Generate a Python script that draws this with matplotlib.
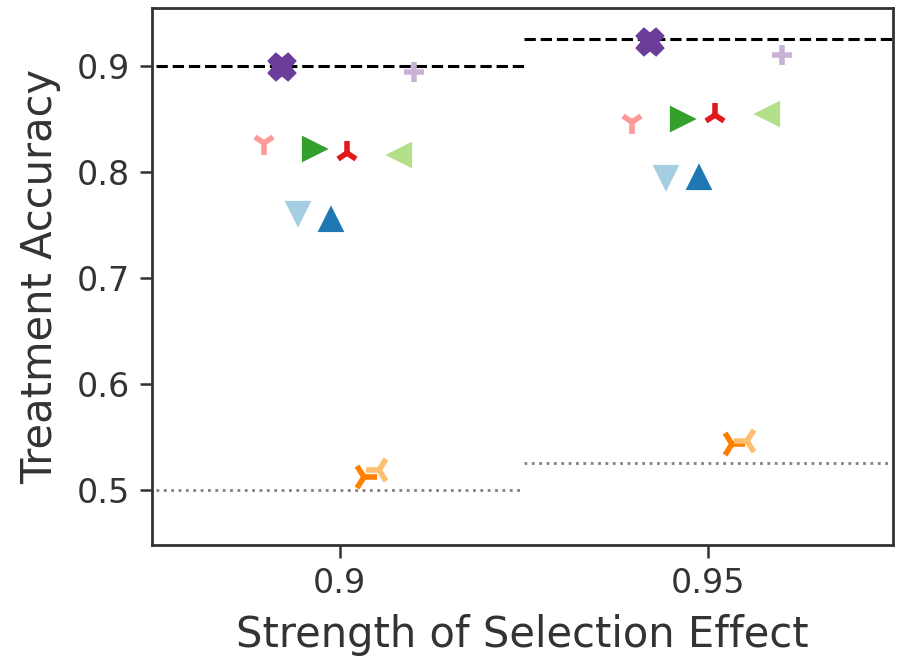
"""Treatment accuracy vs selection strength"""
import numpy as np
import matplotlib
matplotlib.use("Agg")
from matplotlib import pyplot as plt
import seaborn as sns

sns.set_style("ticks")
plt.rcParams["font.family"] = ["DejaVu Sans"]

strengths = [0.9, 0.95]
methods = ["m1", "x", "v", ">", "^", "m2", "m4", "m3", "<", "+"]
accuracy = {
    "m1": [0.827, 0.847],
    "x": [0.899, 0.923],
    "v": [0.761, 0.795],
    ">": [0.822, 0.850],
    "^": [0.755, 0.794],
    "m2": [0.818, 0.854],
    "m4": [0.512, 0.543],
    "m3": [0.519, 0.546],
    "<": [0.816, 0.855],
    "+": [0.894, 0.910],
}
upper_bound = [0.9, 0.925]
lower_bound = [0.5, 0.525]

pal = sns.color_palette("Paired", 10)
styles = {
    "m1": dict(marker="1", color=pal[4], ms=17, mew=4),
    "x": dict(marker="X", color=pal[9], ms=16, mew=4),
    "v": dict(marker="v", color=pal[0], ms=14, mew=3),
    ">": dict(marker=">", color=pal[3], ms=14, mew=3),
    "^": dict(marker="^", color=pal[1], ms=14, mew=3),
    "m2": dict(marker="2", color=pal[5], ms=17, mew=4),
    "m4": dict(marker="4", color=pal[7], ms=19, mew=4),
    "m3": dict(marker="3", color=pal[6], ms=19, mew=4),
    "<": dict(marker="<", color=pal[2], ms=14, mew=3),
    "+": dict(marker="+", color=pal[8], ms=15, mew=4),
}
offsets = np.array([-76, -58, -42, -26, -9, 7, 24, 39, 60, 74]) / 368 * 0.05

fig, ax = plt.subplots(figsize=(9.04, 6.59), dpi=100)
half = 0.025
for s, ub, lb in zip(strengths, upper_bound, lower_bound):
    ax.hlines(ub, s - half, s + half, colors="k", linestyles="--", lw=2.2, zorder=1)
    ax.hlines(lb, s - half, s + half, colors="gray", linestyles=":", lw=2, zorder=1)

for m, off in zip(methods, offsets):
    st = styles[m]
    ax.plot(np.array(strengths) + off, accuracy[m], ls="none",
            marker=st["marker"], color=st["color"], mec=st["color"],
            ms=st["ms"], mew=st["mew"], zorder=3)

ax.set_xlim(0.8745, 0.9751)
ax.set_ylim(0.448, 0.9547)
ax.set_xticks(strengths)
ax.set_xticklabels(["0.9", "0.95"])
ax.set_yticks([0.5, 0.6, 0.7, 0.8, 0.9])
ax.tick_params(labelsize=24, colors="#333333", width=1.8, length=9, pad=7)
for sp in ax.spines.values():
    sp.set_linewidth(2)
    sp.set_color("#333333")
ax.set_xlabel("Strength of Selection Effect", fontsize=30, color="#333333", labelpad=10)
ax.set_ylabel("Treatment Accuracy", fontsize=30, color="#333333", labelpad=11)
fig.subplots_adjust(left=0.168, right=0.988, top=0.988, bottom=0.173)
fig.savefig("out.png", dpi=100)
